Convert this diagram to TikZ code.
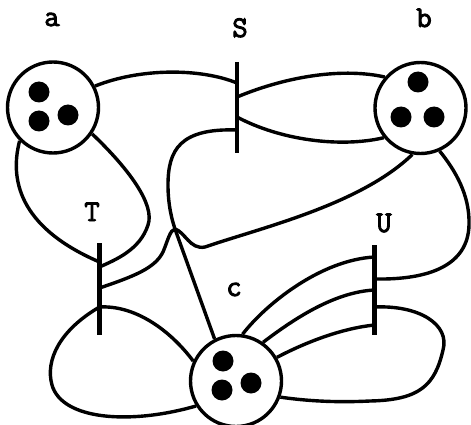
\documentclass[tikz,border=0pt]{standalone}
\usepackage{fontspec}
\newfontfamily\lblfont{Latin Modern Mono}[FakeBold=3]
\begin{document}
\begin{tikzpicture}[x=1pt,y=-1pt,
  place/.style={circle,draw,line width=3.4pt,minimum size=91pt,inner sep=0pt,fill=white},
  token/.style={circle,fill=black,minimum size=21pt,inner sep=0pt},
  arc/.style={line width=3.4pt},
  bar/.style={line width=4.8pt},
  lbl/.style={font=\lblfont\fontsize{30}{30}\selectfont,anchor=base,inner sep=0pt}]
\useasboundingbox (0,0) rectangle (471,425);
% places
\node[place] (a) at (53,107.5) {};
\node[place] (b) at (420.5,108) {};
\node[place] (c) at (236,381) {};
\node[token] (a1) at (39,92) {};
\node[token] (a2) at (39,121) {};
\node[token] (a3) at (68,115) {};
\node[token] (b1) at (418,82) {};
\node[token] (b2) at (401,117) {};
\node[token] (b3) at (434,117) {};
\node[token] (c1) at (223,361) {};
\node[token] (c2) at (222,390) {};
\node[token] (c3) at (251,383) {};
% labels
\node[lbl] (la) at (52,26) {a};
\node[lbl] (lS) at (240,37) {S};
\node[lbl] (lb) at (424,27) {b};
\node[lbl] (lT) at (92,221) {T};
\node[lbl] (lU) at (384,232) {U};
\node[lbl] (lc) at (234,296) {c};
% transitions
\coordinate (Stop) at (237,62); \coordinate (Sbot) at (237,153);
\coordinate (Ttop) at (99.5,243); \coordinate (Tbot) at (99.5,335);
\coordinate (Utop) at (374.5,245); \coordinate (Ubot) at (374.5,335);
\coordinate (S1) at (237,83); \coordinate (S2) at (237,97);
\coordinate (S3) at (237,117); \coordinate (S4) at (237,130);
\coordinate (T1) at (99.5,262); \coordinate (T1b) at (99.5,267);
\coordinate (T2) at (99.5,288); \coordinate (T3) at (99.5,307);
\coordinate (U1) at (374.5,257); \coordinate (U5) at (374.5,279);
\coordinate (U2) at (374.5,290); \coordinate (U4) at (374.5,307);
\coordinate (U3) at (374.5,325);
\coordinate (K) at (175,229);
\draw[bar] (Stop) -- (Sbot);
\draw[bar] (Ttop) -- (Tbot);
\draw[bar] (Utop) -- (Ubot);
% arcs
\draw[arc] (a.27) .. controls (140,68) and (200,68) .. (S1);
\draw[arc] (S2) .. controls (290,75) and (345,68) .. (b.139);
\draw[arc] (S3) .. controls (280,140) and (340,148) .. (b.219);
\draw[arc] (S4) .. controls (180,128) and (168,150) .. (168,185) .. controls (168,205) and (172,220) .. (K) -- (c.117);
\draw[arc] (T2) .. controls (135,276) and (155,268) .. (163,252) .. controls (168,240) and (170,230) .. (K) .. controls (185,232) and (190,250) .. (205,247) .. controls (260,228) and (360,205) .. (b.260);
\draw[arc] (a.225) .. controls (8,185) and (25,230) .. (T1);
\draw[arc] (a.326) .. controls (130,170) and (155,205) .. (148,225) .. controls (140,250) and (115,260) .. (T1b);
\draw[arc] (T3) .. controls (60,330) and (45,360) .. (52,385) .. controls (62,420) and (130,425) .. (c.212);
\draw[arc] (T3) .. controls (135,305) and (170,330) .. (c.155);
\draw[arc] (c.82) .. controls (265,305) and (320,260) .. (U1);
\draw[arc] (c.55) .. controls (295,318) and (335,292) .. (U2);
\draw[arc] (c.30) .. controls (310,340) and (345,328) .. (U3);
\draw[arc] (U4) .. controls (420,305) and (450,325) .. (443,350) .. controls (435,385) and (420,400) .. (370,401) .. controls (330,403) and (300,400) .. (c.340);
\draw[arc] (U5) .. controls (430,280) and (468,265) .. (469,225) .. controls (470,195) and (455,170) .. (b.294);
\end{tikzpicture}
\end{document}
